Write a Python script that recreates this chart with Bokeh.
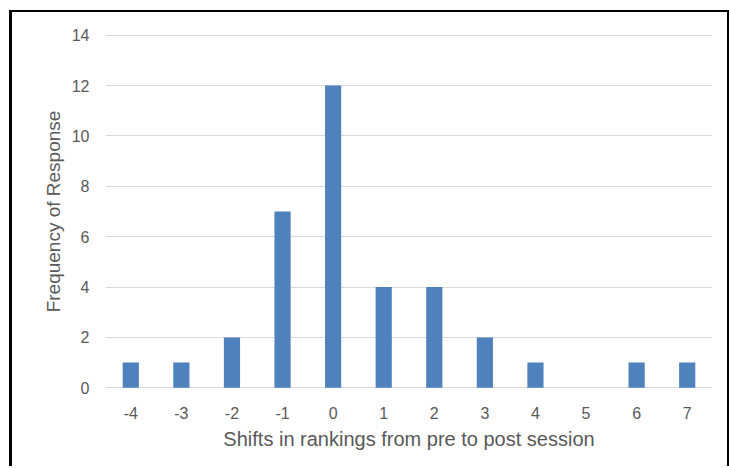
from bokeh.plotting import figure
from bokeh.models import FixedTicker, Range1d
from bokeh.embed import file_html
from bokeh.resources import INLINE

shifts = [-4, -3, -2, -1, 0, 1, 2, 3, 4, 5, 6, 7]
frequency = [1, 1, 2, 7, 12, 4, 4, 2, 1, 0, 1, 1]
y_ticks = [0, 2, 4, 6, 8, 10, 12, 14]

FONT = "Liberation Sans"
TXT = "#595959"

p = figure(width=720, height=456, output_backend="svg", toolbar_location=None,
           x_range=Range1d(-4.5, 7.5), y_range=Range1d(-0.03, 14.03),
           min_border_left=93, min_border_right=20, min_border_top=22, min_border_bottom=80)
p.styles = {"margin-left": "9px", "margin-top": "10px",
            "border-left": "3px solid #000", "border-top": "2px solid #000",
            "border-right": "2px solid #000"}
p.outline_line_color = None
p.background_fill_color = "white"
p.border_fill_color = "white"

p.vbar(x=shifts, top=frequency, width=0.32, bottom=0, fill_color="#4F81BD", line_color=None)

p.xgrid.grid_line_color = None
p.ygrid.grid_line_color = "#D9D9D9"
p.ygrid.grid_line_width = 1.2
p.ygrid.ticker = FixedTicker(ticks=y_ticks)

p.xaxis.ticker = FixedTicker(ticks=shifts)
p.xaxis.major_label_overrides = {s: str(s) for s in shifts}
p.yaxis.ticker = FixedTicker(ticks=y_ticks)
for ax in (p.xaxis, p.yaxis):
    ax.axis_line_color = None
    ax.major_tick_line_color = None
    ax.minor_tick_line_color = None
    ax.major_label_text_font = FONT
    ax.major_label_text_font_size = "16px"
    ax.major_label_text_color = TXT
    ax.axis_label_text_font = FONT
    ax.axis_label_text_color = TXT
    ax.axis_label_text_font_style = "normal"

p.xaxis.axis_label = "Shifts in rankings from pre to post session"
p.yaxis.axis_label = "Frequency of Response"
p.xaxis.axis_label_text_font_size = "20px"
p.yaxis.axis_label_text_font_size = "19px"
p.xaxis.major_label_standoff = 12
p.yaxis.major_label_standoff = 10
p.xaxis.axis_label_standoff = 6
p.yaxis.axis_label_standoff = 5

open("out.html", "w").write(file_html(p, INLINE))
